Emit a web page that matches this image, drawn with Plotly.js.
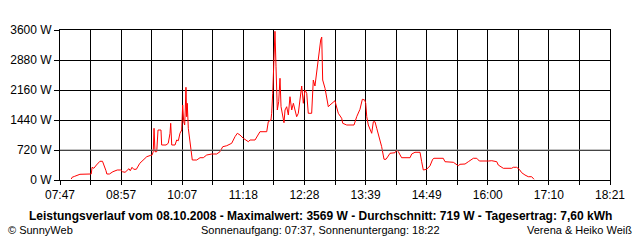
<!DOCTYPE html>
<html>
<head>
<meta charset="utf-8">
<script src="https://cdn.plot.ly/plotly-3.0.1.min.js"></script>
<style>html,body{margin:0;padding:0;background:#fff;}#chart{width:640px;height:240px;}</style>
</head>
<body>
<div id="chart"></div>
<script>
// time in minutes since midnight
const times = [480,481,484,490,502,503,504,506,509,513,516,517,520,521,524,528,533,537,539,542,545,546.5,548,550,552,555,559,563,567,571.6,573,574.5,575.4,576.5,578.5,580,583.4,584.2,589.2,591.8,593.8,594.6,595.8,599.6,601.5,603.4,605.3,607.3,608.4,609.6,610.7,611.4,612.2,613,613.7,614.9,616.9,619.5,624.6,628.4,632.2,636.1,641.9,647.6,651.4,654.6,659.2,664.9,668.7,671.4,674.5,678.3,684.1,686,691.8,697.5,705.3,707.1,710.2,711,712.2,712.9,714.8,716,717.5,719.1,720.6,721.8,723.7,725.2,726.4,728.3,730.2,732.1,734.1,736,737.9,739.8,741.7,743.7,745.6,747.5,749.4,751.4,753.2,757.1,759,760.9,762.9,764.7,765.9,767.5,768.7,769.8,772.5,774.4,776.3,778.2,781.3,784,785.2,787.8,791.7,792.9,797.5,805.9,809,812.8,815.5,818.3,819.4,820.6,822.4,825.2,826.3,828.2,830.1,832.1,835.1,837.8,840.5,842.8,845.4,847.4,853.2,855.1,857,860.8,870.5,872.4,876.2,882,883.9,885.8,889.6,893.5,896.6,898.1,908.8,910.8,920.4,924.3,926.1,928.1,933.9,937.7,941.6,943.5,947.4,950.4,960.8,964.7,970.5,972.2,978,987.7,989.5,993.4,996.4,999.2,1003,1006.8,1010.7,1013.4];
const watts = [24,65,89,137,144,144,305,281,360,449,449,401,223,144,144,199,240,240,199,185,240,271,223,305,257,257,401,480,559,593,593,679,1241,679,679,1200,1200,840,840,881,1121,1361,840,840,960,943,1121,1200,1800,1399,1320,1680,2225,1519,1841,1241,840,480,480,535,535,600,624,624,679,799,823,881,1039,1121,1080,1001,919,960,960,1159,1159,1399,1440,1601,2081,2479,3569,2719,1680,1879,2441,1759,1560,1375,1680,1759,1560,1999,1680,1841,1680,1519,1601,1920,2256,1841,2160,2081,1601,1601,2400,2256,2599,2880,3000,3360,3430,2400,2201,1920,1759,1800,1855,1903,1800,1601,1481,1361,1320,1320,1519,1697,1937,1920,1841,1519,1320,1159,1121,1399,1399,1241,1039,799,497,497,576,641,655,720,679,535,535,624,665,665,439,240,257,340,497,521,521,439,425,377,343,377,384,439,497,521,521,456,456,463,439,360,281,281,305,305,257,175,120,79,79,17];
const xTickLabels = ['07:47','08:57','10:07','11:18','12:28','13:39','14:49','16:00','17:10','18:21'];
const yTickValues = [0,720,1440,2160,2880,3600];
const yTickLabels = ['0 W','720 W','1440 W','2160 W','2880 W','3600 W'];
const averageW = 719;
const titleText = 'Leistungsverlauf vom 08.10.2008 - Maximalwert: 3569 W - Durchschnitt: 719 W - Tagesertrag: 7,60 kWh';
const leftText = '© SunnyWeb';
const centerText = 'Sonnenaufgang: 07:37, Sonnenuntergang: 18:22';
const rightText = 'Verena & Heiko Weiß';

function toMin(s){const p=s.split(':');return (+p[0])*60+(+p[1]);}
const x0 = toMin(xTickLabels[0]), x1 = toMin(xTickLabels[xTickLabels.length-1]);
const nInt = (xTickLabels.length-1)*2;
const xVals=[], xText=[];
for(let i=0;i<=nInt;i++){xVals.push(x0+(x1-x0)*i/nInt); xText.push(i%2===0?xTickLabels[i/2]:'');}

const fam = 'Liberation Sans, Arial, sans-serif';
const font = {family:fam, size:12, color:'#000'};
const smallFont = {family:fam, size:11, color:'#000'};
Plotly.newPlot('chart',[{
  x:times, y:watts, type:'scatter', mode:'lines',
  line:{color:'#ff0000', width:1, shape:'linear'}, hoverinfo:'none'
}],{
  width:640, height:240,
  margin:{l:60,r:30,t:30,b:60},
  paper_bgcolor:'#fff', plot_bgcolor:'#fff',
  showlegend:false,
  font:font,
  xaxis:{range:[x0,x1], tickvals:xVals, ticktext:xText, showgrid:true, gridcolor:'#000', gridwidth:1,
    ticks:'outside', ticklen:4, tickcolor:'#000', showline:true, linecolor:'#000', linewidth:1, mirror:true,
    zeroline:false, tickfont:font, fixedrange:true},
  yaxis:{range:[0,3600], tickvals:yTickValues, ticktext:yTickLabels, showgrid:true, gridcolor:'#000', gridwidth:1,
    ticks:'outside', ticklen:5, tickcolor:'#000', showline:true, linecolor:'#000', linewidth:1, mirror:true,
    zeroline:false, tickfont:font, fixedrange:true},
  shapes:[{type:'line', xref:'paper', x0:0, x1:1, yref:'y', y0:averageW, y1:averageW, line:{color:'#808080', width:1}}],
  annotations:[
    {text:'<b>'+titleText+'</b>', xref:'paper', yref:'paper', x:(320-60)/550, y:(180-216)/150, xanchor:'center', yanchor:'middle', showarrow:false, font:{family:fam,size:12,color:'#000'}},
    {text:leftText, xref:'paper', yref:'paper', x:(6-60)/550, y:(180-230)/150, xanchor:'left', yanchor:'middle', showarrow:false, font:smallFont},
    {text:centerText, xref:'paper', yref:'paper', x:(320-60)/550, y:(180-230)/150, xanchor:'center', yanchor:'middle', showarrow:false, font:smallFont},
    {text:rightText, xref:'paper', yref:'paper', x:(634-60)/550, y:(180-230)/150, xanchor:'right', yanchor:'middle', showarrow:false, font:smallFont}
  ]
},{staticPlot:true, displayModeBar:false});
</script>
</body>
</html>
